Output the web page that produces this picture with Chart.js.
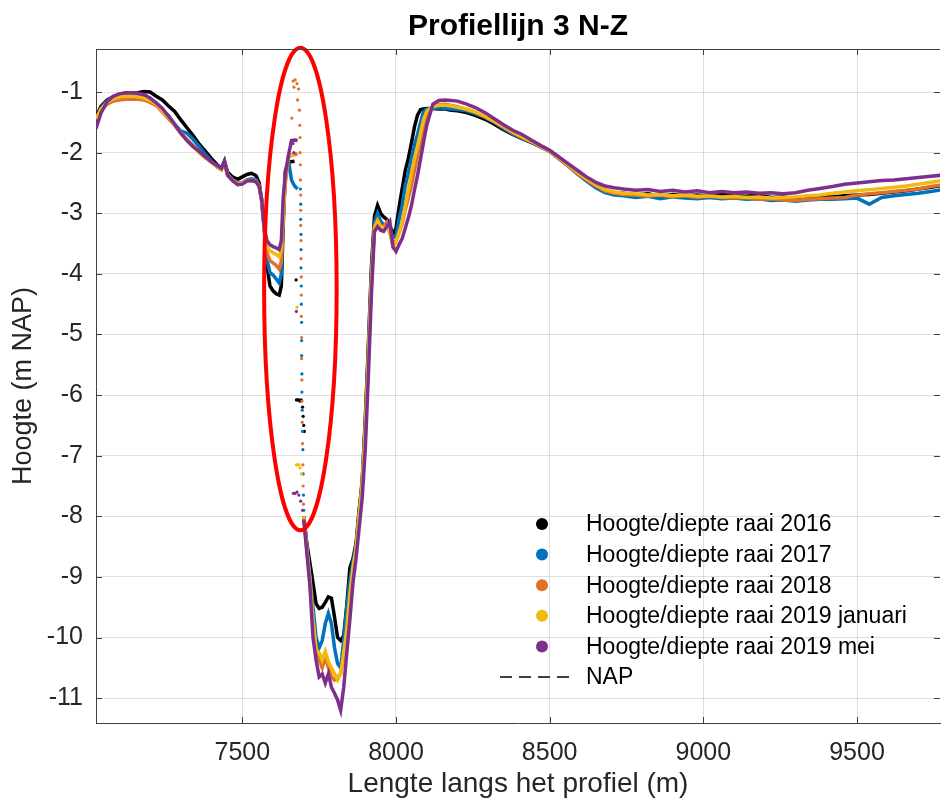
<!DOCTYPE html>
<html>
<head>
<meta charset="utf-8">
<title>Profiellijn 3 N-Z</title>
<script src="https://cdn.jsdelivr.net/npm/chart.js@4.4.1/dist/chart.umd.min.js"></script>
<style>
  html, body { margin: 0; padding: 0; background: #fff; overflow: hidden; }
  canvas { display: block; }
</style>
</head>
<body>
<canvas id="profielChart" width="944" height="805"></canvas>
<script>
// afstand langs het profiel (m), gedeeld door alle raaien
const afstand = [
  7024, 7040, 7060, 7080, 7100, 7120, 7140, 7160, 7180, 7200, 7220, 7240, 7260, 7280, 7300, 7320, 7340, 7360, 7380, 7400, 7420,
  7432, 7442, 7452, 7468, 7485, 7500, 7515, 7530, 7545, 7555, 7563, 7571, 7580, 7590, 7600, 7610, 7620, 7627, 7633, 7640, 7650, 7660, 7670, 7680,
  7690,
  7700, 7710, 7720, 7730, 7740, 7750, 7760, 7770, 7780, 7790, 7800, 7810, 7820, 7830, 7840, 7850, 7860, 7870, 7880, 7890, 7900, 7910, 7920, 7930, 7940,
  7950, 7960, 7970, 7980, 7990, 8000, 8010, 8020, 8030, 8040, 8050, 8060, 8070, 8080, 8090, 8100,
  8120, 8140, 8160, 8180, 8200,
  8230, 8260, 8290, 8320, 8350, 8380, 8410, 8440, 8470, 8500, 8530, 8560, 8590, 8620, 8650, 8680, 8710,
  8740, 8780, 8820, 8860, 8900, 8940, 8980, 9020, 9060, 9100, 9140, 9180, 9220, 9260, 9300, 9340, 9380, 9420, 9460, 9500, 9540, 9580, 9620, 9660, 9700, 9740, 9780
];

const hoogte2016 = [
  -1.41, -1.24, -1.13, -1.08, -1.04, -1.02, -1.02, -1.01, -0.99, -1.0, -1.07, -1.13, -1.23, -1.32, -1.46, -1.59, -1.72, -1.86, -1.98, -2.1, -2.21,
  -2.26, -2.14, -2.32, -2.4, -2.44, -2.4, -2.36, -2.34, -2.38, -2.5, -2.78, -3.22, -3.85, -4.2, -4.28, -4.33, -4.35, -4.2, -3.2, -2.3, -2.15, -2.15, -2.14, null,
  null,
  -8.0, -8.45, -8.77, -9.1, -9.44, -9.52, -9.5, -9.42, -9.33, -9.35, -9.66, -10.0, -10.05, -9.97, -9.46, -8.85, -8.7, -8.45, -7.9, -7.45, -6.4, -5.2, -3.9, -3.05, -2.87,
  -3.0, -3.06, -3.1, -3.2, -3.35, -3.25, -2.9, -2.6, -2.3, -2.1, -1.85, -1.58, -1.38, -1.29, -1.28, -1.27,
  -1.27, -1.28, -1.28, -1.3, -1.31,
  -1.34, -1.39, -1.45, -1.53, -1.62, -1.7, -1.77, -1.83, -1.9, -1.97, -2.08, -2.2, -2.32, -2.44, -2.55, -2.62, -2.66,
  -2.67, -2.7, -2.68, -2.72, -2.69, -2.71, -2.7, -2.72, -2.69, -2.71, -2.72, -2.7, -2.74, -2.73, -2.76, -2.74, -2.72, -2.73, -2.71, -2.7, -2.69, -2.67, -2.65, -2.63, -2.6, -2.57, -2.54
];

const hoogte2017 = [
  -1.45, -1.27, -1.14, -1.08, -1.05, -1.03, -1.03, -1.04, -1.06, -1.1, -1.2, -1.3, -1.39, -1.53, -1.64, -1.68, -1.78, -1.9, -2.03, -2.14, -2.24,
  -2.27, -2.15, -2.35, -2.44, -2.5, -2.5, -2.45, -2.43, -2.45, -2.55, -2.8, -3.25, -3.75, -3.98, -4.02, -4.08, -4.15, -4.0, -3.0, -2.35, -2.12, -2.45, -2.55, -2.6,
  null,
  -8.0, -8.5, -9.0, -9.5, -10.0, -10.17, -10.05, -9.77, -9.6, -9.77, -10.17, -10.43, -10.5, -10.05, -9.5, -9.05, -8.75, -8.5, -7.95, -7.4, -6.5, -5.3, -4.0, -3.15, -3.0,
  -3.13, -3.2, -3.22, -3.25, -3.4, -3.38, -3.1, -2.88, -2.55, -2.35, -2.1, -1.88, -1.7, -1.5, -1.32, -1.28,
  -1.27, -1.26, -1.27, -1.28, -1.29,
  -1.31, -1.36, -1.42, -1.5, -1.6, -1.69, -1.76, -1.83, -1.9, -1.98, -2.1, -2.22, -2.35, -2.47, -2.58, -2.66, -2.7,
  -2.71, -2.74, -2.72, -2.76, -2.73, -2.75, -2.76, -2.74, -2.76, -2.75, -2.77, -2.76, -2.79, -2.78, -2.8, -2.78, -2.77, -2.77, -2.76, -2.75, -2.85, -2.74, -2.71, -2.69, -2.67, -2.64, -2.61
];

const hoogte2018 = [
  -1.45, -1.3, -1.2, -1.15, -1.13, -1.12, -1.12, -1.12, -1.13, -1.17, -1.22, -1.33, -1.44, -1.55, -1.68, -1.78, -1.88, -1.98, -2.08, -2.16, -2.24,
  -2.28, -2.16, -2.36, -2.45, -2.5, -2.5, -2.46, -2.45, -2.47, -2.55, -2.78, -3.22, -3.65, -3.78, -3.82, -3.86, -3.92, -3.8, -3.1, -2.5, -2.08, -2.04, -2.03, -2.02,
  null,
  -8.0, -8.55, -9.05, -9.77, -10.16, -10.37, -10.5, -10.32, -10.5, -10.65, -10.7, -10.65, -10.6, -10.3, -9.95, -9.35, -8.9, -8.55, -8.0, -7.5, -6.6, -5.4, -4.1, -3.22, -3.11,
  -3.22, -3.22, -3.15, -3.33, -3.5, -3.45, -3.32, -3.18, -2.95, -2.75, -2.55, -2.3, -2.05, -1.85, -1.6, -1.38,
  -1.24, -1.21, -1.2, -1.22, -1.24,
  -1.29, -1.34, -1.41, -1.49, -1.58, -1.67, -1.75, -1.82, -1.9, -1.98, -2.1, -2.22, -2.34, -2.45, -2.55, -2.63, -2.67,
  -2.69, -2.7, -2.72, -2.7, -2.73, -2.71, -2.74, -2.72, -2.74, -2.75, -2.74, -2.77, -2.76, -2.78, -2.79, -2.77, -2.76, -2.75, -2.74, -2.7, -2.68, -2.66, -2.64, -2.62, -2.6, -2.56, -2.53
];

const hoogte2019jan = [
  -1.44, -1.28, -1.17, -1.11, -1.08, -1.07, -1.07, -1.08, -1.1, -1.14, -1.2, -1.31, -1.42, -1.54, -1.67, -1.79, -1.9, -2.0, -2.09, -2.16, -2.24,
  -2.28, -2.17, -2.37, -2.46, -2.51, -2.51, -2.47, -2.46, -2.48, -2.56, -2.79, -3.22, -3.55, -3.62, -3.65, -3.68, -3.72, -3.6, -3.0, -2.4, -2.06, -2.04, -2.04, null,
  null,
  -8.0, -8.55, -9.05, -9.7, -10.2, -10.25, -10.37, -10.23, -10.4, -10.5, -10.6, -10.7, -10.6, -10.25, -9.85, -9.3, -8.85, -8.55, -8.0, -7.5, -6.6, -5.45, -4.15, -3.25, -3.13,
  -3.22, -3.24, -3.22, -3.3, -3.55, -3.48, -3.32, -3.15, -2.9, -2.62, -2.35, -2.1, -1.9, -1.67, -1.45, -1.32,
  -1.24, -1.22, -1.22, -1.23, -1.25,
  -1.28, -1.33, -1.4, -1.48, -1.57, -1.66, -1.74, -1.81, -1.89, -1.97, -2.08, -2.2, -2.32, -2.43, -2.53, -2.61, -2.65,
  -2.67, -2.68, -2.7, -2.69, -2.71, -2.7, -2.72, -2.71, -2.73, -2.72, -2.74, -2.73, -2.75, -2.74, -2.73, -2.71, -2.7, -2.67, -2.65, -2.63, -2.61, -2.59, -2.57, -2.55, -2.52, -2.49, -2.46
];

const hoogte2019mei = [
  -1.6, -1.35, -1.16, -1.07, -1.03, -1.01, -1.01, -1.02, -1.04, -1.1, -1.18, -1.27, -1.4, -1.53, -1.68, -1.8, -1.9, -1.98, -2.07, -2.15, -2.22,
  -2.26, -2.14, -2.37, -2.46, -2.53, -2.52, -2.47, -2.46, -2.48, -2.56, -2.77, -3.22, -3.45, -3.52, -3.55, -3.57, -3.6, -3.45, -2.75, -2.35, -2.05, -1.8, -1.79, -1.8,
  null,
  -8.05, -8.6, -9.15, -10.0, -10.37, -10.65, -10.6, -10.75, -10.6, -10.82, -10.92, -11.03, -11.2, -10.82, -10.25, -9.7, -9.1, -8.7, -8.2, -7.7, -6.9, -5.7, -4.35, -3.3, -3.22,
  -3.28, -3.3, -3.22, -3.14, -3.55, -3.63, -3.52, -3.42, -3.25, -3.08, -2.88, -2.62, -2.38, -2.1, -1.82, -1.55,
  -1.2, -1.14, -1.13, -1.14, -1.15,
  -1.2, -1.26, -1.34, -1.44, -1.54, -1.63, -1.7, -1.79, -1.88, -1.96, -2.07, -2.18, -2.29, -2.4, -2.49, -2.55, -2.58,
  -2.6, -2.62, -2.61, -2.64, -2.62, -2.65, -2.63, -2.66, -2.64, -2.66, -2.65, -2.67, -2.66, -2.68, -2.66, -2.62, -2.59, -2.56, -2.52, -2.5, -2.48, -2.46, -2.45, -2.43, -2.41, -2.39, -2.37
];

// losse meetpunten in de geul (omcirkeld gebied)
const losX2016 = [7675, 7676, 7680, 7684, 7688, 7692, 7696, 7698, 7700, 7702];
const losY2016 = [-4.1, -6.08, -6.08, -6.08, -6.1, -6.08, -6.2, -6.35, -6.5, -6.6];
const losX2017 = [7689, 7690, 7690, 7691, 7691, 7691, 7692, 7692, 7693, 7693, 7693, 7694, 7694, 7695, 7696, 7697, 7698, 7699, 7700];
const losY2017 = [-2.6, -2.85, -3.1, -3.35, -3.6, -3.9, -4.2, -4.5, -4.8, -5.1, -5.35, -5.65, -5.95, -6.25, -6.6, -6.9, -7.3, -7.65, -7.9];
const losX2018 = [7665, 7672, 7678, 7668, 7683, 7661, 7680, 7686, 7687, 7688, 7688, 7689, 7689, 7690, 7690, 7690, 7691, 7691, 7692, 7692, 7692, 7693, 7693, 7694, 7694, 7695, 7696, 7697, 7698, 7699];
const losY2018 = [-0.82, -0.8, -0.86, -0.92, -0.95, -1.43, -1.13, -1.3, -1.55, -1.75, -2.0, -2.2, -2.45, -2.7, -2.95, -3.2, -3.45, -3.75, -4.05, -4.35, -4.7, -5.05, -5.4, -5.75, -6.1, -6.45, -6.8, -7.15, -7.5, -7.8];
const losX2019jan = [7678, 7676, 7680, 7684, 7688, 7693];
const losY2019jan = [-4.55, -7.15, -7.15, -7.15, -7.2, -7.3];
const losX2019mei = [7665, 7668, 7676, 7666, 7672, 7678, 7684, 7690, 7696];
const losY2019mei = [-1.85, -2.0, -4.62, -7.62, -7.62, -7.6, -7.65, -7.75, -7.9];

const napHoogte = [0, 0];
const napAfstand = [7024, 9780];

const reeksNamen = [
  "Hoogte/diepte raai 2016",
  "Hoogte/diepte raai 2017",
  "Hoogte/diepte raai 2018",
  "Hoogte/diepte raai 2019 januari",
  "Hoogte/diepte raai 2019 mei"
];
const reeksKleuren = ["#000000", "#0072BD", "#E0702A", "#F2B90F", "#7E2F8E"];

const xTicks = [7500, 8000, 8500, 9000, 9500];
const yTicks = [-1, -2, -3, -4, -5, -6, -7, -8, -9, -10, -11];

// rode ellips rond de losse punten (middelpunt en halve assen in m)
const ellipsMidden = [7689, -4.25];
const ellipsStraal = [118, 3.98];

const FONT = "'Liberation Sans', Arial, Helvetica, sans-serif";
const TEKST = "#262626";

function punten(xs, ys) {
    return xs.map((x, i) => ({ x: x, y: ys[i] }));
}

const reeksen = [hoogte2016, hoogte2017, hoogte2018, hoogte2019jan, hoogte2019mei];
const losse = [
    [losX2016, losY2016], [losX2017, losY2017], [losX2018, losY2018],
    [losX2019jan, losY2019jan], [losX2019mei, losY2019mei]
];

const datasets = [];
reeksen.forEach((ys, i) => {
    datasets.push({
        label: reeksNamen[i],
        data: punten(afstand, ys),
        showLine: true,
        borderColor: reeksKleuren[i],
        backgroundColor: reeksKleuren[i],
        borderWidth: 3.5,
        pointRadius: 0,
        spanGaps: false,
        order: 10 - i
    });
    datasets.push({
        label: reeksNamen[i] + " (los)",
        data: punten(losse[i][0], losse[i][1]),
        showLine: false,
        backgroundColor: reeksKleuren[i],
        borderColor: reeksKleuren[i],
        pointRadius: 1.6,
        borderWidth: 0,
        order: 10 - i
    });
});
datasets.push({
    label: "NAP",
    data: punten(napAfstand, napHoogte),
    showLine: true,
    borderColor: "#000000",
    borderWidth: 1.5,
    borderDash: [12, 7],
    pointRadius: 0,
    order: 0
});

// ellips, kader, tikjes naar binnen en legenda
const profielExtras = {
    id: "profielExtras",
    afterDatasetsDraw(chart) {
        const { ctx, scales: { x, y } } = chart;
        const cx = x.getPixelForValue(ellipsMidden[0]);
        const cy = y.getPixelForValue(ellipsMidden[1]);
        const rx = Math.abs(x.getPixelForValue(ellipsMidden[0] + ellipsStraal[0]) - cx);
        const ry = Math.abs(y.getPixelForValue(ellipsMidden[1] + ellipsStraal[1]) - cy);
        ctx.save();
        ctx.beginPath();
        ctx.ellipse(cx, cy, rx, ry, 0, 0, 2 * Math.PI);
        ctx.strokeStyle = "#ff0000";
        ctx.lineWidth = 4;
        ctx.stroke();
        ctx.restore();
    },
    afterDraw(chart) {
        const { ctx, chartArea: a, scales: { x, y } } = chart;
        ctx.save();
        ctx.strokeStyle = "#404040";
        ctx.lineWidth = 1;
        ctx.beginPath();
        ctx.moveTo(a.left, a.top + 0.5);
        ctx.lineTo(a.right, a.top + 0.5);
        x.ticks.forEach(t => {
            const px = Math.round(x.getPixelForValue(t.value)) + 0.5;
            ctx.moveTo(px, a.bottom); ctx.lineTo(px, a.bottom - 6);
            ctx.moveTo(px, a.top); ctx.lineTo(px, a.top + 6);
        });
        y.ticks.forEach(t => {
            const py = Math.round(y.getPixelForValue(t.value)) + 0.5;
            ctx.moveTo(a.left, py); ctx.lineTo(a.left + 6, py);
            ctx.moveTo(a.right, py); ctx.lineTo(a.right - 6, py);
        });
        ctx.stroke();

        // legenda
        const dotX = 542, textX = 586, rowY = 524, rowH = 30.6;
        ctx.font = "23px " + FONT;
        ctx.textBaseline = "middle";
        ctx.fillStyle = "#000";
        reeksNamen.forEach((naam, i) => {
            const ry = rowY + i * rowH;
            ctx.beginPath();
            ctx.arc(dotX, ry, 6, 0, 2 * Math.PI);
            ctx.fillStyle = reeksKleuren[i];
            ctx.fill();
            ctx.fillStyle = "#000";
            ctx.fillText(naam, textX, ry + 1);
        });
        const napY = rowY + 5 * rowH;
        ctx.beginPath();
        ctx.setLineDash([12, 7]);
        ctx.strokeStyle = "#000";
        ctx.lineWidth = 1.5;
        ctx.moveTo(500, napY);
        ctx.lineTo(576, napY);
        ctx.stroke();
        ctx.setLineDash([]);
        ctx.fillText("NAP", textX, napY + 1);
        ctx.restore();
    }
};

document.addEventListener("DOMContentLoaded", function () {
    const profielChart = new Chart(document.getElementById("profielChart"), {
        type: "scatter",
        data: { datasets: datasets },
        options: {
            responsive: false,
            animation: false,
            layout: { padding: 0 },
            plugins: {
                legend: { display: false },
                tooltip: { enabled: false },
                title: {
                    display: true,
                    text: "Profiellijn 3 N-Z",
                    fullSize: false,
                    color: "#000",
                    font: { family: FONT, size: 30, weight: "bold" },
                    padding: { top: 9, bottom: 4 }
                }
            },
            scales: {
                x: {
                    type: "linear",
                    min: 7024,
                    max: 9770,
                    afterBuildTicks: s => { s.ticks = xTicks.map(v => ({ value: v })); },
                    afterFit: s => { s.height = 82; },
                    ticks: { callback: v => v, padding: 15, color: TEKST, font: { family: FONT, size: 25 } },
                    grid: { color: "rgba(0,0,0,0.12)", drawTicks: false },
                    border: { color: "#404040", width: 1 },
                    title: {
                        display: true,
                        text: "Lengte langs het profiel (m)",
                        color: TEKST,
                        font: { family: FONT, size: 28 },
                        padding: { top: 0, bottom: 4 }
                    }
                },
                y: {
                    type: "linear",
                    min: -11.41,
                    max: -0.29,
                    afterBuildTicks: s => { s.ticks = yTicks.map(v => ({ value: v })); },
                    afterFit: s => { s.width = 96; },
                    ticks: { callback: v => v, padding: 13, color: TEKST, font: { family: FONT, size: 25 } },
                    grid: { color: "rgba(0,0,0,0.12)", drawTicks: false },
                    border: { color: "#404040", width: 1 },
                    title: {
                        display: true,
                        text: "Hoogte (m NAP)",
                        color: TEKST,
                        font: { family: FONT, size: 27 },
                        padding: { top: 7, bottom: 0 }
                    }
                }
            }
        },
        plugins: [profielExtras]
    });
});
</script>
</body>
</html>
